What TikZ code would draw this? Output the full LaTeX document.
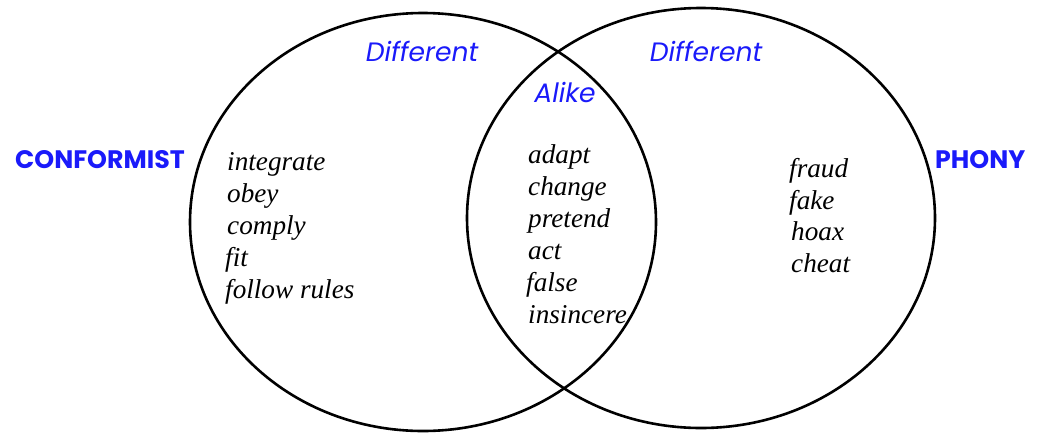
\documentclass[tikz,border=0pt]{standalone}
\usepackage{fontspec}
\setmainfont{Liberation Serif}
\newfontfamily\geo{Poppins}
\begin{document}
\begin{tikzpicture}[x=1pt,y=-1pt,
  setline/.style={draw=black, line width=2.6pt},
  tag/.style={text=venblue, font=\geo\itshape\fontsize{26.6}{30}\selectfont, inner sep=0pt, anchor=base},
  title/.style={text=venblue, font=\geo\bfseries\fontsize{25.3}{30}\selectfont, inner sep=0pt, anchor=base west},
  word/.style={font=\itshape\fontsize{27.2}{32}\selectfont, inner sep=0pt, anchor=base west}]
\definecolor{venblue}{RGB}{26,26,250}
\useasboundingbox (0,0) rectangle (1037,432);
% the two sets
\draw[setline] (423,222) ellipse [x radius=233, y radius=209];
\draw[setline] (701,218) ellipse [x radius=234, y radius=210];
% set names
\node[title] (conformist) at (15,168) {CONFORMIST};
\node[title] (phony) at (935,168) {PHONY};
% region headings
\node[tag] (diffL) at (422,61) {Different};
\node[tag] (diffR) at (706,61) {Different};
\node[tag] (alike) at (565,102) {Alike};
% left-only words
\node[word] (w1) at (227,170) {integrate};
\node[word] (w2) at (227,202) {obey};
\node[word] (w3) at (227,234) {comply};
\node[word] (w4) at (225,266) {fit};
\node[word] (w5) at (225,298) {follow rules};
% shared words
\node[word] (s1) at (528,163) {adapt};
\node[word] (s2) at (528,195) {change};
\node[word] (s3) at (528,227) {pretend};
\node[word] (s4) at (528,259) {act};
\node[word] (s5) at (526,291) {false};
\node[word] (s6) at (528,323) {insincere};
% right-only words
\node[word] (r1) at (789,177) {fraud};
\node[word] (r2) at (789,209) {fake};
\node[word] (r3) at (791,240) {hoax};
\node[word] (r4) at (791,272) {cheat};
\end{tikzpicture}
\end{document}
